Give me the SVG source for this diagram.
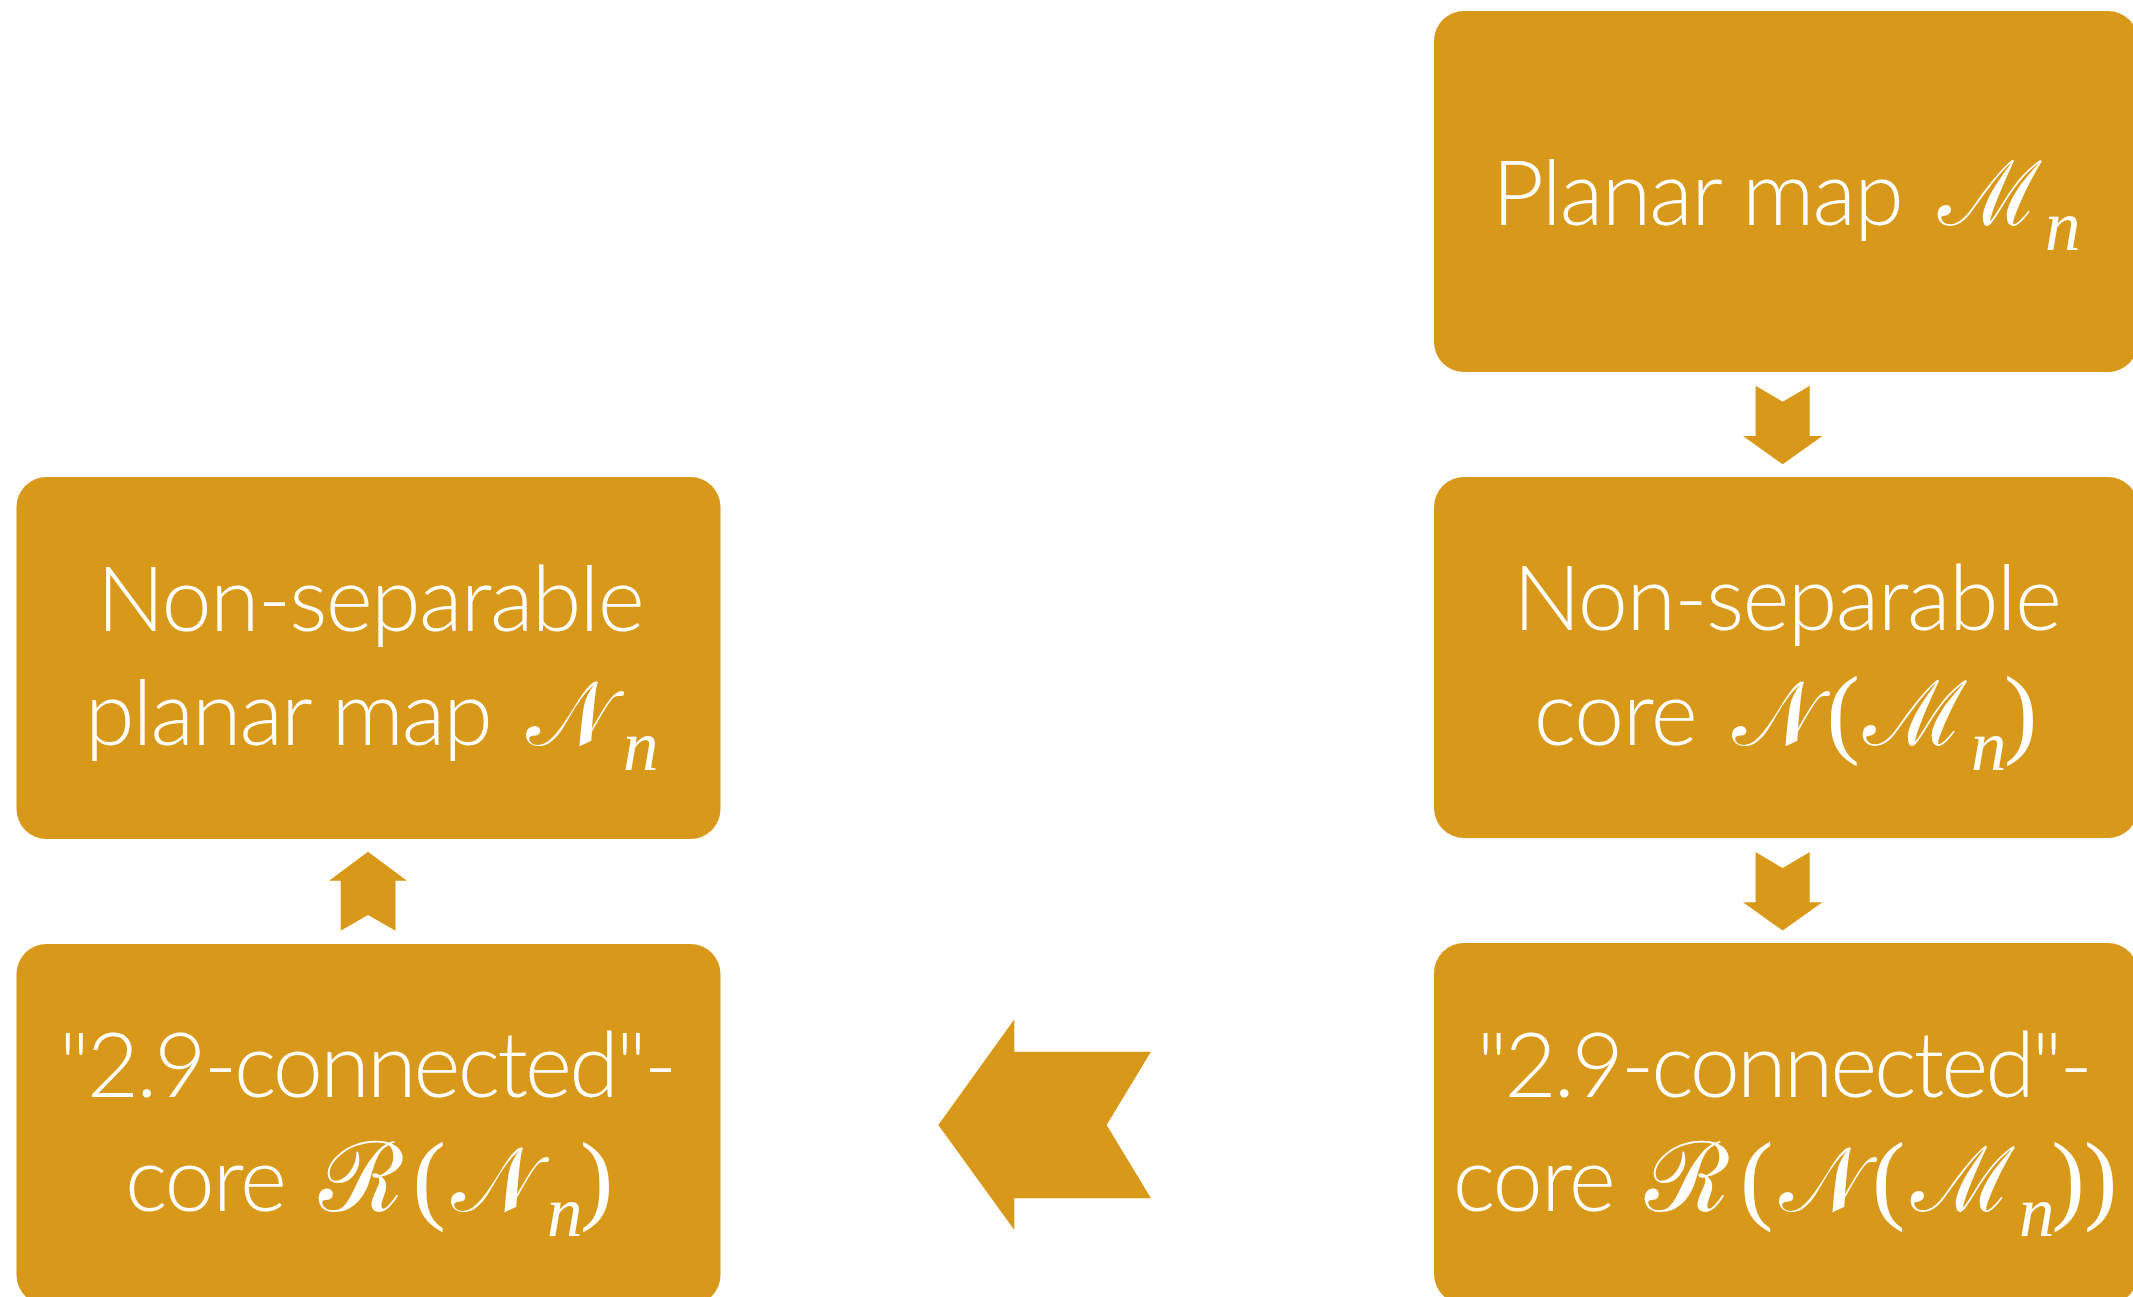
<svg xmlns="http://www.w3.org/2000/svg" width="2133" height="1297" viewBox="0 0 2133 1297">
<style>
.box{fill:#D8991B}
.arr{fill:#D8991B}
.t{font-family:Lato,"Open Sans","Liberation Sans",sans-serif;font-weight:300;font-size:90px;fill:#fff}
.m{font-family:"DejaVu Serif","Liberation Serif",serif;font-size:90px;fill:#fff}
.r{font-family:"DejaVu Serif","Liberation Serif",serif;font-size:97px;fill:#fff}
.n{font-family:"Liberation Serif",serif;font-style:italic;font-size:71px;fill:#fff}
.p{font-family:"Liberation Serif",serif;font-size:100px;fill:#fff}
</style>
<rect width="2133" height="1297" fill="#fff"/>
<g id="connectors">
<polygon class="arr" points="1755.6,385.7 1782.7,401.7 1809.7,385.7 1809.7,436 1822.5,436 1782.7,464.3 1742.9,436 1755.6,436"/>
<polygon class="arr" points="1755.6,852 1782.7,868 1809.7,852 1809.7,902.3 1822.5,902.3 1782.7,930.6 1742.9,902.3 1755.6,902.3"/>
<polygon class="arr" points="1151,1051.7 1106.7,1125 1151,1198.3 1014.3,1198.3 1014.3,1230 938.3,1125 1014.3,1019.3 1014.3,1051.7"/>
<polygon class="arr" points="340.7,930.7 368,915 395.5,930.7 395.5,880.7 407,880.7 368,851.7 329,880.7 340.7,880.7"/>
</g>
<g id="node-planar-map">
<rect class="box" x="1434" y="11" width="704" height="361" rx="30"/>
<text class="t" x="1492" y="225" textLength="412">Planar map</text>
<text class="m" x="1938" y="225">ℳ</text>
<text class="n" x="2045" y="250">n</text>
</g>
<g id="node-nonsep-core">
<rect class="box" x="1434" y="477" width="704" height="361" rx="30"/>
<text class="t" x="1513" y="630" textLength="549">Non-separable</text>
<text class="t" x="1533.7" y="745" textLength="164">core</text>
<text class="m" x="1731.5" y="745">𝒩</text>
<text class="p" x="1826.5" y="745">(</text>
<text class="m" x="1863" y="745">ℳ</text>
<text class="n" x="1971" y="770">n</text>
<text class="p" x="2004" y="745">)</text>
</g>
<g id="node-29-core-right">
<rect class="box" x="1434" y="943" width="704" height="361" rx="30"/>
<text class="t" x="1476.8" y="1096.7" textLength="616">"2.9-connected"-</text>
<text class="t" x="1452.7" y="1210.7" textLength="163">core</text>
<text class="r" x="1645" y="1210.7">ℛ</text>
<text class="p" x="1740" y="1210.7">(</text>
<text class="m" x="1779" y="1210.7">𝒩</text>
<text class="p" x="1872" y="1210.7">(</text>
<text class="m" x="1911" y="1210.7">ℳ</text>
<text class="n" x="2019" y="1236">n</text>
<text class="p" x="2051.6" y="1210.7">)</text>
<text class="p" x="2084" y="1210.7">)</text>
</g>
<g id="node-nonsep-map">
<rect class="box" x="16.5" y="477" width="704" height="362" rx="30"/>
<text class="t" x="96.7" y="630.7" textLength="548">Non-separable</text>
<text class="t" x="85" y="745" textLength="408">planar map</text>
<text class="m" x="526" y="745">𝒩</text>
<text class="n" x="623" y="770">n</text>
</g>
<g id="node-29-core-left">
<rect class="box" x="16.5" y="944" width="704" height="361" rx="30"/>
<text class="t" x="59" y="1096.7" textLength="618">"2.9-connected"-</text>
<text class="t" x="125" y="1210.7" textLength="162">core</text>
<text class="r" x="319" y="1210.7">ℛ</text>
<text class="p" x="412.6" y="1210.7">(</text>
<text class="m" x="450.7" y="1210.7">𝒩</text>
<text class="n" x="547" y="1236">n</text>
<text class="p" x="580" y="1210.7">)</text>
</g>
</svg>
